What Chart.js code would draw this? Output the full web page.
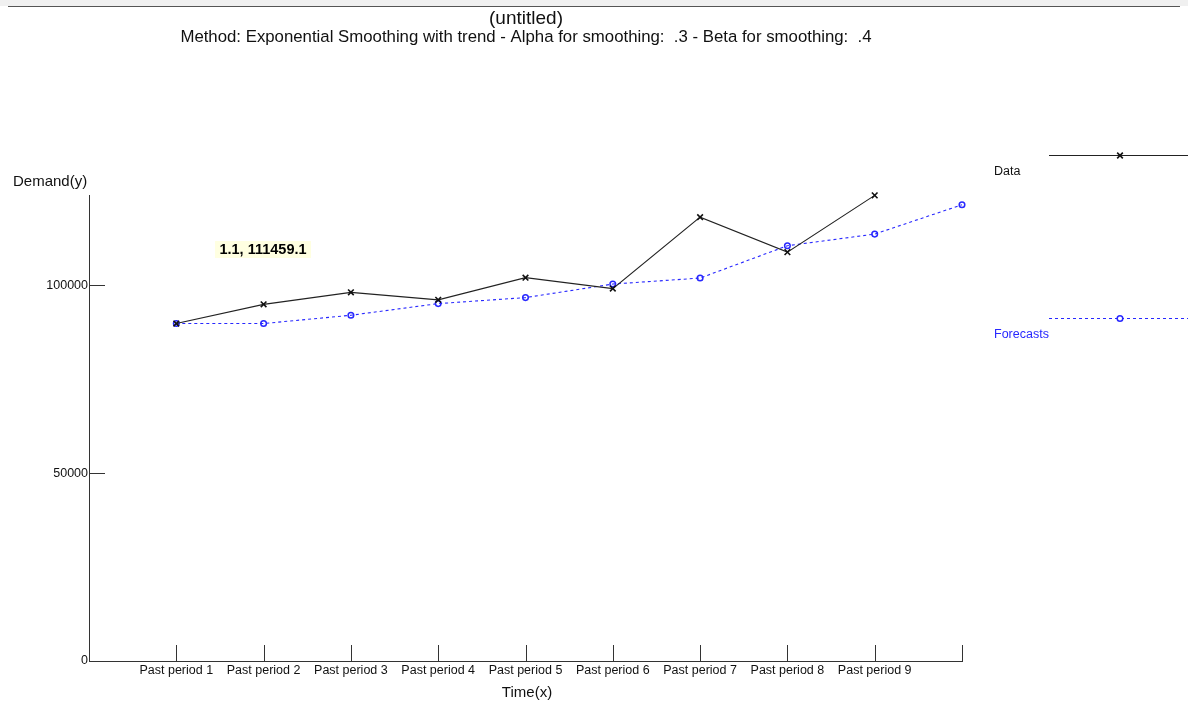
<!DOCTYPE html>
<html>
<head>
<meta charset="utf-8">
<script src="https://cdn.jsdelivr.net/npm/chart.js@4.4.0/dist/chart.umd.min.js"></script>
<style>
html, body { margin: 0; padding: 0; background: #fff; }
canvas { display: block; }
</style>
</head>
<body>
<canvas id="myChart" width="1188" height="705"></canvas>
<script>
// values
var periods = [1, 2, 3, 4, 5, 6, 7, 8, 9];
var demand = [89800, 94900, 98100, 96100, 102000, 99100, 118100, 108800, 123900];
var forecastPeriods = [1, 2, 3, 4, 5, 6, 7, 8, 9, 10];
var forecasts = [89800, 89800, 92000, 95100, 96700, 100300, 101900, 110500, 113600, 121400];
var periodLabels = ['Past period 1', 'Past period 2', 'Past period 3', 'Past period 4', 'Past period 5',
    'Past period 6', 'Past period 7', 'Past period 8', 'Past period 9'];
var xTicks = [1, 2, 3, 4, 5, 6, 7, 8, 9, 10];
var yTicks = [0, 50000, 100000];

var font = 'Liberation Sans, Arial, sans-serif';
var blue = 'rgb(40,40,255)';

var decor = {
    id: 'decor',
    afterDraw: function (chart) {
        var ctx = chart.ctx;
        var xs = chart.scales.x, ys = chart.scales.y, area = chart.chartArea;
        ctx.save();

        // window strip at the top
        ctx.fillStyle = '#f0f0f0';
        ctx.fillRect(0, 0, 1188, 6);
        ctx.strokeStyle = '#555';
        ctx.lineWidth = 1;
        ctx.beginPath(); ctx.moveTo(8, 6.5); ctx.lineTo(1180, 6.5); ctx.stroke();

        // ticks pointing into the plot
        ctx.strokeStyle = '#333';
        xTicks.forEach(function (v) {
            var px = Math.round(xs.getPixelForValue(v)) + 0.5;
            ctx.beginPath(); ctx.moveTo(px, area.bottom); ctx.lineTo(px, area.bottom - 16); ctx.stroke();
        });
        yTicks.forEach(function (v) {
            if (v === 0) return;
            var py = Math.round(ys.getPixelForValue(v)) + 0.5;
            ctx.beginPath(); ctx.moveTo(area.left, py); ctx.lineTo(area.left + 16, py); ctx.stroke();
        });

        // titles
        ctx.fillStyle = '#111';
        ctx.textBaseline = 'middle';
        ctx.textAlign = 'center';
        ctx.font = '19px ' + font;
        ctx.fillText('(untitled)', 526, 19);
        ctx.font = '16.8px ' + font;
        ctx.fillText('Method: Exponential Smoothing with trend - Alpha for smoothing:  .3 - Beta for smoothing:  .4', 526, 37);
        ctx.font = '15px ' + font;
        ctx.fillText('Time(x)', 527, 693);
        ctx.textAlign = 'left';
        ctx.fillText('Demand(y)', 13, 182);

        // hover label
        ctx.fillStyle = '#ffffe1';
        ctx.fillRect(215, 241, 96, 17);
        ctx.fillStyle = '#000';
        ctx.font = 'bold 14.5px ' + font;
        ctx.textAlign = 'center';
        ctx.fillText('1.1, 111459.1', 263, 250);

        // legend
        ctx.textAlign = 'left';
        ctx.font = '12.5px ' + font;
        ctx.fillStyle = '#111';
        ctx.fillText('Data', 994, 172);
        ctx.strokeStyle = '#222';
        ctx.lineWidth = 1;
        ctx.beginPath(); ctx.moveTo(1049, 155.5); ctx.lineTo(1188, 155.5); ctx.stroke();
        ctx.strokeStyle = '#111';
        ctx.lineWidth = 1.6;
        Chart.helpers.drawPoint(ctx, { pointStyle: 'crossRot', radius: 4, borderWidth: 1.6 }, 1120, 155.5);

        ctx.fillStyle = blue;
        ctx.fillText('Forecasts', 994, 335);
        ctx.strokeStyle = blue;
        ctx.lineWidth = 1;
        ctx.setLineDash([3, 3]);
        ctx.beginPath(); ctx.moveTo(1049, 318.5); ctx.lineTo(1188, 318.5); ctx.stroke();
        ctx.setLineDash([]);
        ctx.fillStyle = '#fff';
        ctx.lineWidth = 1.5;
        Chart.helpers.drawPoint(ctx, { pointStyle: 'circle', radius: 2.8, borderWidth: 1.5 }, 1120, 318.5);
        ctx.restore();
    }
};

var canvas = document.getElementById('myChart');
var ctx = canvas.getContext('2d');

var chart = new Chart(ctx, {
    type: 'line',
    data: {
        datasets: [{
            label: 'Data',
            data: periods.map(function (p, i) { return { x: p, y: demand[i] }; }),
            borderColor: '#222',
            borderWidth: 1.1,
            pointStyle: 'crossRot',
            pointRadius: 4,
            pointBorderWidth: 1.6,
            pointBorderColor: '#111',
            tension: 0,
            clip: false
        }, {
            label: 'Forecasts',
            data: forecastPeriods.map(function (p, i) { return { x: p, y: forecasts[i] }; }),
            borderColor: blue,
            borderWidth: 1.1,
            borderDash: [3, 3],
            pointStyle: 'circle',
            pointRadius: 2.8,
            pointBorderWidth: 1.5,
            pointBorderColor: blue,
            pointBackgroundColor: 'rgba(255,255,255,0)',
            tension: 0,
            clip: false
        }]
    },
    options: {
        responsive: false,
        animation: false,
        layout: { padding: { top: 195, right: 226, left: 0, bottom: 0 } },
        plugins: { legend: { display: false }, tooltip: { enabled: false } },
        scales: {
            x: {
                type: 'linear',
                min: 0,
                max: 10,
                afterBuildTicks: function (s) { s.ticks = xTicks.map(function (v) { return { value: v }; }); },
                afterFit: function (s) { s.height = 44; },
                grid: { drawOnChartArea: false, drawTicks: false },
                border: { display: true, color: '#333', width: 1 },
                ticks: {
                    autoSkip: false,
                    maxRotation: 0,
                    padding: 2,
                    color: '#111',
                    font: { family: font, size: 12.5 },
                    callback: function (v) { return (v >= 1 && v <= 9) ? periodLabels[v - 1] : ''; }
                }
            },
            y: {
                min: 0,
                max: 124000,
                afterBuildTicks: function (s) { s.ticks = yTicks.map(function (v) { return { value: v }; }); },
                afterFit: function (s) { s.width = 89; },
                grid: { drawOnChartArea: false, drawTicks: false },
                border: { display: true, color: '#333', width: 1 },
                ticks: {
                    padding: 1,
                    color: '#111',
                    font: { family: font, size: 12.5 },
                    callback: function (v) { return String(v); }
                }
            }
        }
    },
    plugins: [decor]
});
</script>
</body>
</html>
